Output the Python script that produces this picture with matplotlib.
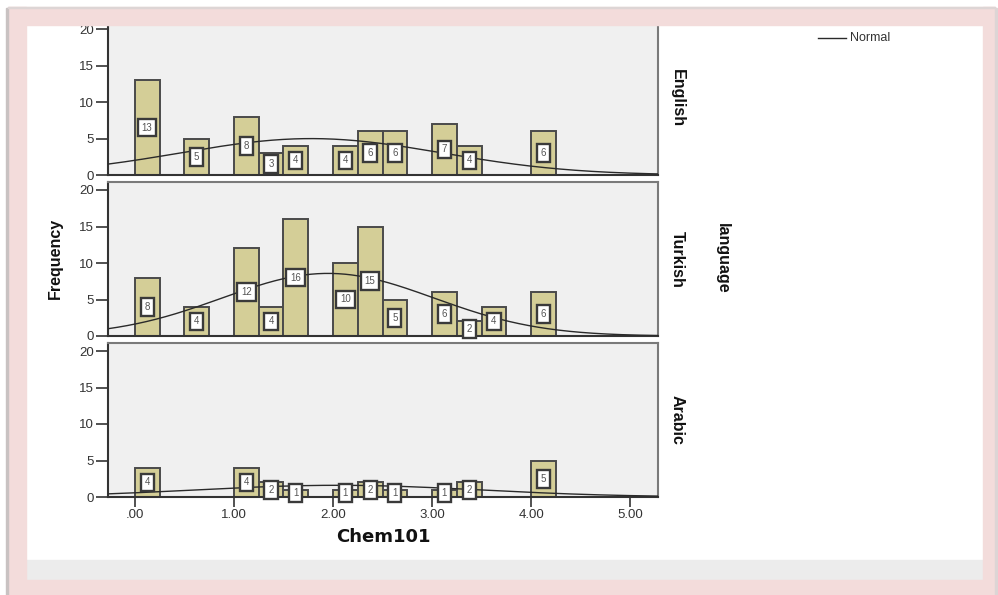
import numpy as np
import matplotlib
matplotlib.use("Agg")
import matplotlib.pyplot as plt
from matplotlib.patches import Rectangle

# ---------------- data ----------------
languages = ["English", "Turkish", "Arabic"]
bin_starts = [0.00, 0.25, 0.50, 0.75, 1.00, 1.25, 1.50, 1.75, 2.00,
              2.25, 2.50, 2.75, 3.00, 3.25, 3.50, 3.75, 4.00]
bin_width = 0.25
english_counts = [13, 0, 5, 0, 8, 3, 4, 0, 4, 6, 6, 0, 7, 4, 0, 0, 6]
turkish_counts = [8, 0, 4, 0, 12, 4, 16, 0, 10, 15, 5, 0, 6, 2, 4, 0, 6]
arabic_counts = [4, 0, 0, 0, 4, 2, 1, 0, 1, 2, 1, 0, 1, 2, 0, 0, 5]
normal_means = [1.78, 1.95, 2.05]
normal_sds = [1.32, 1.07, 1.43]
xticks = [0, 1, 2, 3, 4, 5]
xtick_labels = [".00", "1.00", "2.00", "3.00", "4.00", "5.00"]
yticks = [0, 5, 10, 15, 20]
counts_all = [english_counts, turkish_counts, arabic_counts]

plt.rcParams['font.family'] = ['Liberation Sans', 'DejaVu Sans']

W, H = 998, 595
fig = plt.figure(figsize=(W / 100, H / 100), dpi=100)
fig.patch.set_facecolor("white")

def fx(px):
    return px / W

def fy(py):
    return 1 - py / H

pink = "#f3dcdb"
# background pieces (behind axes)
fig.patches.append(Rectangle((fx(26), fy(580)), fx(983) - fx(26), fy(560) - fy(580),
                             transform=fig.transFigure, color="#ececec", zorder=-5))
# pink frame drawn on top
frame = [
    (8, 7, 995, 25),     # top
    (8, 580, 995, 595),  # bottom
    (8, 7, 26, 595),     # left
    (983, 7, 995, 595),  # right
]
for x0, y0, x1, y1 in frame:
    fig.patches.append(Rectangle((fx(x0), fy(y1)), fx(x1) - fx(x0), fy(y0) - fy(y1),
                                 transform=fig.transFigure, color=pink, zorder=20))
fig.patches.append(Rectangle((fx(6), fy(595)), fx(8) - fx(6), fy(8) - fy(595),
                             transform=fig.transFigure, color="#c9c2c2", zorder=21))
fig.patches.append(Rectangle((fx(995), fy(595)), fx(997) - fx(995), fy(8) - fy(595),
                             transform=fig.transFigure, color="#ddd5d5", zorder=21))
fig.patches.append(Rectangle((fx(8), fy(8)), fx(995) - fx(8), fy(7) - fy(8),
                             transform=fig.transFigure, color="#ddd5d5", zorder=21))

panel_tops = [21, 182, 343]
panel_h = 154
ax_left, ax_right = 108, 658
xs = np.linspace(-0.27, 5.28, 400)
bar_color = "#d4ce97"
edge_color = "#4a4a4a"

axes = []
for i, lang in enumerate(languages):
    top = panel_tops[i]
    ax = fig.add_axes([fx(ax_left), fy(top + panel_h), fx(ax_right) - fx(ax_left),
                       panel_h / H])
    axes.append(ax)
    ax.set_facecolor("#f0f0f0")
    counts = counts_all[i]
    lefts = [b for b, c in zip(bin_starts, counts) if c > 0]
    vals = [c for c in counts if c > 0]
    ax.bar(lefts, vals, width=bin_width, align="edge", color=bar_color,
           edgecolor=edge_color, linewidth=1.4, zorder=2)
    n = sum(counts)
    mu, sd = normal_means[i], normal_sds[i]
    curve = n * bin_width * np.exp(-0.5 * ((xs - mu) / sd) ** 2) / (sd * np.sqrt(2 * np.pi))
    ax.plot(xs, curve, color="#2a2a2a", lw=1.0, zorder=3)
    for l, v in zip(lefts, vals):
        ax.text(l + bin_width / 2, v / 2, str(v), ha="center", va="center",
                fontsize=7, color="#555555", zorder=5, clip_on=False,
                bbox=dict(boxstyle="square,pad=0.4", facecolor="white",
                          edgecolor="#3a3a3a", linewidth=1.7))
    ax.set_xlim(-0.27, 5.28)
    ax.set_ylim(0, 20 * panel_h / 146)
    ax.set_yticks(yticks)
    ax.set_yticklabels([str(t) for t in yticks], fontsize=9.5, color="#333333")
    ax.tick_params(axis="y", direction="out", length=9, width=1.2, color="#333333", pad=1)
    for s in ["top", "right"]:
        ax.spines[s].set_color("#7a7a7a")
        ax.spines[s].set_linewidth(1.5)
    for s in ["left", "bottom"]:
        ax.spines[s].set_color("#333333")
        ax.spines[s].set_linewidth(1.5)
    ax.set_xticks(xticks)
    if i < 2:
        ax.tick_params(axis="x", bottom=False, labelbottom=False)
    else:
        ax.set_xticklabels(xtick_labels, fontsize=9.5, color="#333333")
        ax.tick_params(axis="x", direction="out", length=7, width=1.2,
                       color="#333333", pad=2)
    # strip label
    fig.text(fx(677), fy(top + 77), lang, rotation=270, ha="center", va="center",
             fontsize=11.5, fontweight="bold", color="#111111")

fig.text(fx(55), fy(258), "Frequency", rotation=90, ha="center", va="center",
         fontsize=11.5, fontweight="bold", color="#111111")
fig.text(fx(722), fy(258), "language", rotation=270, ha="center", va="center",
         fontsize=11.5, fontweight="bold", color="#111111")
fig.text(fx(383), fy(537), "Chem101", ha="center", va="center",
         fontsize=13, fontweight="bold", color="#111111", family=["DejaVu Sans"])

# legend
fig.lines.append(plt.Line2D([fx(818), fx(846)], [fy(38), fy(38)],
                            transform=fig.transFigure, color="#2a2a2a", lw=1.0))
fig.text(fx(850), fy(38), "Normal", ha="left", va="center", fontsize=9,
         color="#333333")

fig.savefig("out.png", dpi=100)
